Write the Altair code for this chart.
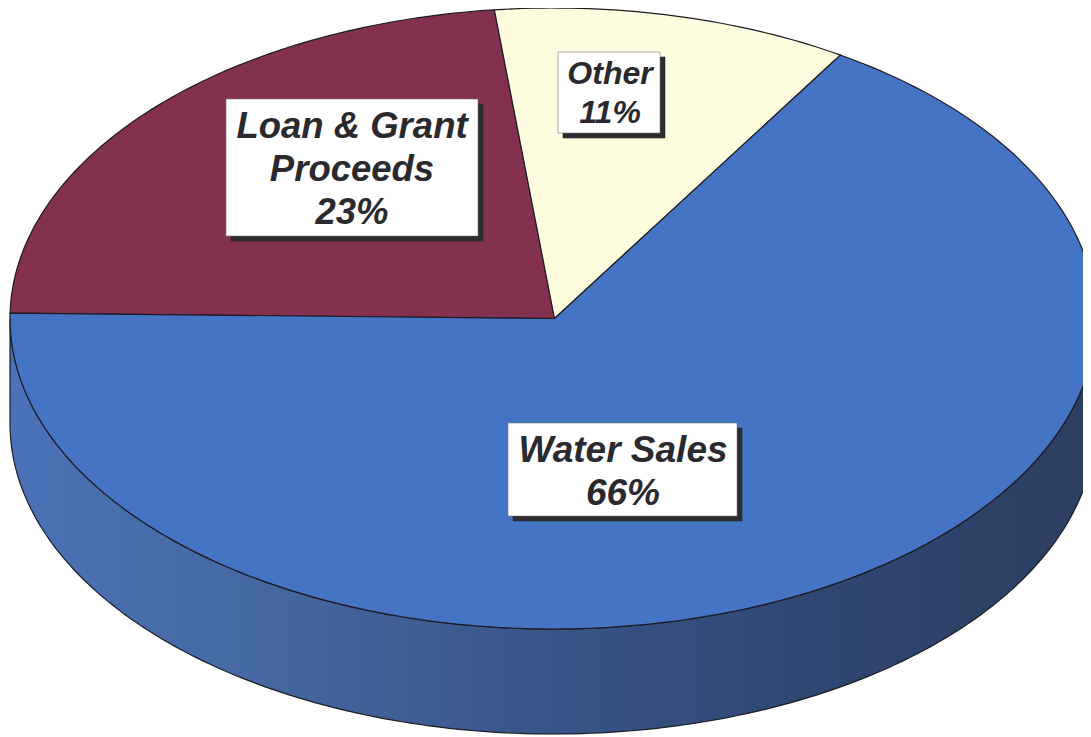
import math
import altair as alt
import pandas as pd

# Pie values (percent, as measured on the slices), clockwise from the left edge of the pie
categories = ["Loan & Grant Proceeds", "Other", "Water Sales"]
shares = [23, 10.6, 66.4]
face_colors = ["#84304f", "#fdfcde", "#4674c4"]

# Label boxes: text lines, box bounds, text centre, baselines and font size
label_lines = [["Loan & Grant", "Proceeds", "23%"], ["Other", "11%"], ["Water Sales", "66%"]]
label_boxes = [(226, 478, 99, 236), (558, 660, 52, 133), (508, 737, 423, 516)]
label_centres = [352, 610, 623]
label_baselines = [[138, 181, 224], [84, 123], [462, 505]]
label_sizes = [36.5, 32, 37]

# Pie geometry, in pixels of the picture
CX, CY, A, B, DEPTH = 553, 318.5, 543, 310.5, 105
START_DEG = 179


def rim(deg, drop=0):
    t = math.radians(deg)
    return CX + A * math.cos(t), CY - B * math.sin(t) + drop


def frame(points):
    return pd.DataFrame({"px": [p[0] for p in points], "py": [p[1] for p in points],
                         "i": list(range(len(points)))})


X = alt.Scale(domain=[8, 1083], nice=False, zero=False)
Y = alt.Scale(domain=[737, 8], nice=False, zero=False)
x_enc = alt.X("px:Q", scale=X, axis=None)
y_enc = alt.Y("py:Q", scale=Y, axis=None)


def polygon(points, fill, width=1.2):
    return alt.Chart(frame(points)).mark_line(
        fill=fill, stroke="#1c1c24", strokeWidth=width, interpolate="linear", clip=False
    ).encode(x=x_enc, y=y_enc, order="i:Q")


layers = []

# Side wall
side = [rim(d) for d in range(180, 361)] + [rim(d, DEPTH) for d in range(360, 179, -1)]
side.append(side[0])
layers.append(polygon(side, alt.Gradient(
    gradient="linear", x1=0, x2=1, y1=0, y2=0,
    stops=[alt.GradientStop(offset=0, color="#4b72b8"),
           alt.GradientStop(offset=0.25, color="#44679f"),
           alt.GradientStop(offset=0.5, color="#385488"),
           alt.GradientStop(offset=0.75, color="#2f4670"),
           alt.GradientStop(offset=1, color="#2c3e60")])))

# Top face wedges
angle = START_DEG
for share, colour in zip(shares, face_colors):
    sweep = share * 3.6
    steps = max(2, int(sweep))
    pts = [(CX + 1.5, CY)] + [rim(angle - sweep * k / steps) for k in range(steps + 1)] + [(CX + 1.5, CY)]
    layers.append(polygon(pts, colour))
    angle -= sweep

# Labels
OFFSET = 5
for lines, (x0, x1, y0, y1), cx, bases, size in zip(
        label_lines, label_boxes, label_centres, label_baselines, label_sizes):
    box = pd.DataFrame({"a": [x0], "b": [x1], "c": [y0], "d": [y1]})
    shadow = pd.DataFrame({"a": [x0 + OFFSET], "b": [x1 + OFFSET], "c": [y0 + OFFSET], "d": [y1 + OFFSET]})
    for df, fill, stroke in [(shadow, "#2b2b30", "#2b2b30"), (box, "#ffffff", "#77777c")]:
        layers.append(alt.Chart(df).mark_rect(fill=fill, stroke=stroke, strokeWidth=0.6).encode(
            x=alt.X("a:Q", scale=X, axis=None), x2="b:Q",
            y=alt.Y("c:Q", scale=Y, axis=None), y2="d:Q"))
    txt = pd.DataFrame({"label": lines, "tx": [cx] * len(lines), "ty": bases})
    layers.append(alt.Chart(txt).mark_text(
        font="Liberation Sans", fontWeight="bold", fontStyle="italic", fontSize=size,
        align="center", baseline="alphabetic", color="#2a2a2e"
    ).encode(x=alt.X("tx:Q", scale=X, axis=None), y=alt.Y("ty:Q", scale=Y, axis=None), text="label:N"))

chart = alt.layer(*layers).properties(
    width=1075, height=729, padding=0, autosize=alt.AutoSizeParams(type="none"), background="#ffffff"
).configure_view(stroke=None)

chart.save("out.html", embed_options={"renderer": "svg", "actions": False})
